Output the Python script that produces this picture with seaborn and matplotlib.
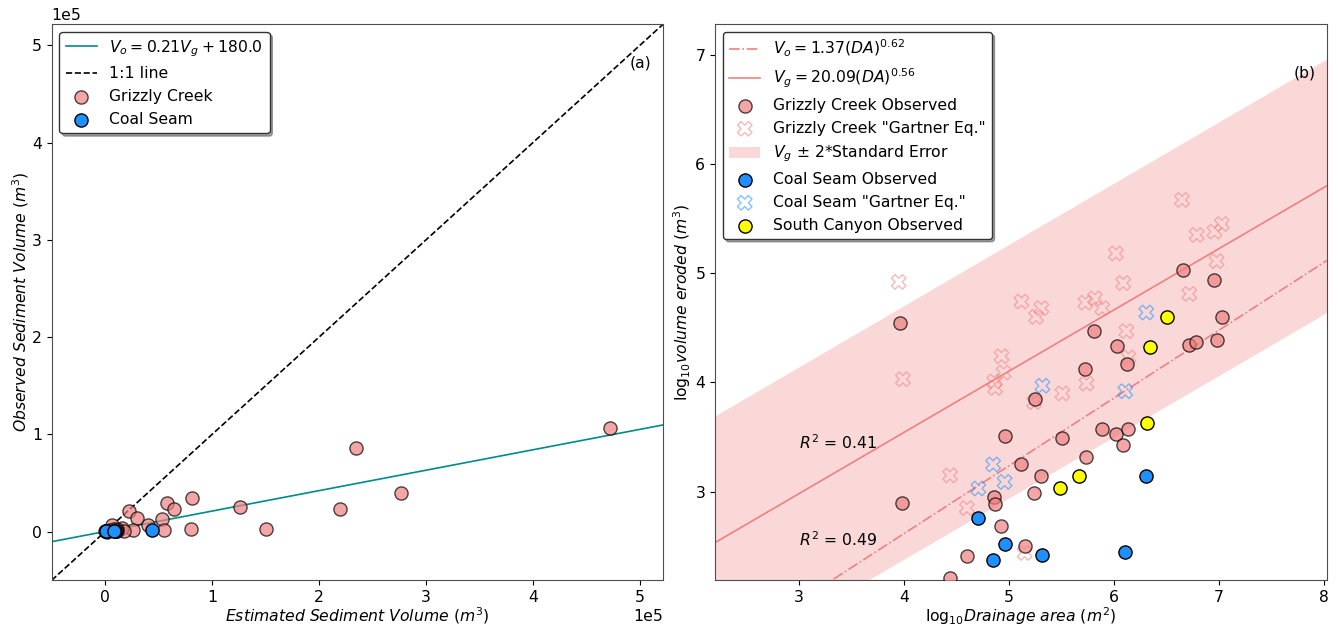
import numpy as np
import pandas as pd
import matplotlib
matplotlib.use("Agg")
import matplotlib.pyplot as plt
import seaborn as sns

# ---------------- data: panel (a) (m^3) ----------------
gc_est = [81000, 80000, 126000, 150000, 220000, 235000, 277000, 472000,
          22000, 30000, 58000, 64000, 40000, 53000, 55000, 26000, 16000,
          17500, 11000, 10700, 8900, 10000, 6600, 7900, 9800, 1400, 700,
          270, 4700]
gc_obs = [35000, 2400, 25000, 3100, 23000, 86000, 40000, 107000,
          21000, 14500, 29000, 23000, 6500, 13500, 1800, 2000, 4000,
          500, 3000, 800, 900, 1000, 7000, 3100, 2100, 160, 260,
          300, 1350]
cs_est = [1070, 1780, 1230, 9330, 8320, 43650]
cs_obs = [575, 240, 331, 263, 282, 1380]
fit_slope = 0.21
fit_intercept = 180.0

# ---------------- data: panel (b) (log10) ----------------
gco_x = [3.96, 3.98, 4.44, 4.60, 4.86, 4.87, 4.93, 4.96, 5.12, 5.15, 5.24,
         5.25, 5.31, 5.51, 5.73, 5.74, 5.81, 5.89, 6.03, 6.02, 6.09, 6.13,
         6.14, 6.66, 6.72, 6.78, 6.96, 6.98, 7.03]
gco_y = [4.54, 2.90, 2.21, 2.41, 2.95, 2.89, 2.69, 3.51, 3.25, 2.50, 2.99,
         3.85, 3.14, 3.49, 4.12, 3.32, 4.47, 3.57, 4.33, 3.53, 3.43, 4.17,
         3.57, 5.03, 4.34, 4.37, 4.94, 4.39, 4.60]
gcg_x = [3.95, 3.99, 4.44, 4.60, 4.86, 4.87, 4.93, 4.95, 5.12, 5.26, 5.31,
         5.24, 5.15, 5.51, 5.73, 5.74, 5.82, 5.89, 6.02, 6.09, 6.12, 6.14,
         6.65, 6.72, 6.79, 6.96, 6.98, 7.03]
gcg_y = [4.92, 4.03, 3.15, 2.85, 4.01, 3.95, 4.24, 4.09, 4.74, 4.60, 4.68,
         3.82, 2.44, 3.90, 4.73, 3.99, 4.77, 4.68, 5.18, 4.91, 4.47, 4.23,
         5.67, 4.81, 5.35, 5.38, 5.11, 5.45]
cso_x = [4.71, 4.85, 4.96, 5.32, 6.11, 6.31]
cso_y = [2.76, 2.38, 2.52, 2.42, 2.45, 3.14]
csg_x = [4.71, 4.85, 4.96, 5.32, 6.11, 6.31]
csg_y = [3.03, 3.25, 3.09, 3.97, 3.92, 4.64]
sc_x = [5.49, 5.67, 6.32, 6.35, 6.51]
sc_y = [3.03, 3.14, 3.63, 4.32, 4.60]
vo_coef, vo_exp = 1.37, 0.62
vg_coef, vg_exp = 20.09, 0.56
std_err = 0.58
r2_vg, r2_vo = 0.41, 0.49

# ---------------- figure ----------------
FS = 11.25
plt.rcParams['font.family'] = ['DejaVu Sans']
plt.rcParams['font.size'] = FS
plt.rcParams['axes.edgecolor'] = '0.3'

fig, (ax1, ax2) = plt.subplots(1, 2, figsize=(13.38, 6.26), dpi=100)
fig.subplots_adjust(left=0.0386, right=0.9916, bottom=0.073, top=0.9617, wspace=0.0845)

# ---- panel (a) ----
lim_a = (-0.5e5, 5.22e5)
xx = np.linspace(lim_a[0], lim_a[1], 50)
sns.lineplot(x=xx, y=fit_slope * xx + fit_intercept, ax=ax1, color='darkcyan', lw=1.2,
             label=r'$V_o = 0.21V_g + 180.0$')
sns.lineplot(x=xx, y=xx, ax=ax1, color='k', lw=1.2, linestyle='--', label='1:1 line')
sns.scatterplot(x=gc_est, y=gc_obs, ax=ax1, color='lightcoral', edgecolor='k',
                alpha=0.7, s=90, linewidth=1, label='Grizzly Creek', zorder=3)
sns.scatterplot(x=cs_est, y=cs_obs, ax=ax1, color='dodgerblue', edgecolor='k',
                s=90, linewidth=1, label='Coal Seam', zorder=4)
ax1.set_xlim(lim_a)
ax1.set_ylim(lim_a)
ax1.ticklabel_format(style='sci', scilimits=(0, 0), axis='both')
ax1.set_xlabel(r'$Estimated\ Sediment\ Volume\ (m^3)$', fontsize=FS, labelpad=0.5)
ax1.set_ylabel(r'$Observed\ Sediment\ Volume\ (m^3)$', fontsize=FS, labelpad=0.5)
ax1.text(0.981, 0.93, '(a)', transform=ax1.transAxes, ha='right', va='center', fontsize=FS)
ax1.legend(loc='upper left', shadow=True, fancybox=True, framealpha=1,
           edgecolor='0.2', fontsize=FS)

# ---- panel (b) ----
xlim_b = (2.2, 8.03)
xb = np.linspace(xlim_b[0], xlim_b[1], 50)
vg_line = np.log10(vg_coef) + vg_exp * xb
vo_line = np.log10(vo_coef) + vo_exp * xb
sns.lineplot(x=xb, y=vo_line, ax=ax2, color='lightcoral', lw=1.2, linestyle='-.',
             label=r'$V_o = 1.37(DA)^{0.62}$')
sns.lineplot(x=xb, y=vg_line, ax=ax2, color='lightcoral', lw=1.2,
             label=r'$V_g = 20.09(DA)^{0.56}$')
sns.scatterplot(x=gco_x, y=gco_y, ax=ax2, color='lightcoral', edgecolor='k',
                alpha=0.7, s=90, linewidth=1, label='Grizzly Creek Observed', zorder=3)
sns.scatterplot(x=gcg_x, y=gcg_y, ax=ax2, marker='X', facecolor='none',
                edgecolor='lightcoral', color='lightcoral', alpha=0.55, s=110, linewidth=1,
                label='Grizzly Creek "Gartner Eq."', zorder=2)
ax2.fill_between(xb, vg_line - 2 * std_err, vg_line + 2 * std_err, color='lightcoral',
                 alpha=0.3, lw=0, label=r'$V_g$ $\pm$ 2*Standard Error', zorder=1)
sns.scatterplot(x=cso_x, y=cso_y, ax=ax2, color='dodgerblue', edgecolor='k',
                s=90, linewidth=1, label='Coal Seam Observed', zorder=4)
sns.scatterplot(x=csg_x, y=csg_y, ax=ax2, marker='X', facecolor='none',
                edgecolor='dodgerblue', color='dodgerblue', alpha=0.55, s=110, linewidth=1,
                label='Coal Seam "Gartner Eq."', zorder=2)
sns.scatterplot(x=sc_x, y=sc_y, ax=ax2, color='yellow', edgecolor='k',
                s=90, linewidth=1, label='South Canyon Observed', zorder=4)
ax2.set_xlim(xlim_b)
ax2.set_ylim(2.19, 7.28)
ax2.set_xticks([3, 4, 5, 6, 7, 8])
ax2.set_yticks([3, 4, 5, 6, 7])
ax2.set_xlabel(r'log$_{10}$$Drainage\ area$ $(m^2)$', fontsize=FS, labelpad=0.5)
ax2.set_ylabel(r'log$_{10}$$volume\ eroded$ $(m^3)$', fontsize=FS, labelpad=2)
ax2.text(3.0, 3.45, r'$R^2$ = %.2f' % r2_vg, fontsize=FS, va='center')
ax2.text(3.0, 2.56, r'$R^2$ = %.2f' % r2_vo, fontsize=FS, va='center')
ax2.text(0.982, 0.912, '(b)', transform=ax2.transAxes, ha='right', va='center', fontsize=FS)

h, l = ax2.get_legend_handles_labels()
order = [r'$V_o = 1.37(DA)^{0.62}$', r'$V_g = 20.09(DA)^{0.56}$', 'Grizzly Creek Observed',
         'Grizzly Creek "Gartner Eq."', r'$V_g$ $\pm$ 2*Standard Error',
         'Coal Seam Observed', 'Coal Seam "Gartner Eq."', 'South Canyon Observed']
hd = dict(zip(l, h))
ax2.legend([hd[k] for k in order], order, loc='upper left', shadow=True, fancybox=True,
           framealpha=1, edgecolor='0.2', fontsize=FS)

fig.savefig('out.png', dpi=100)
